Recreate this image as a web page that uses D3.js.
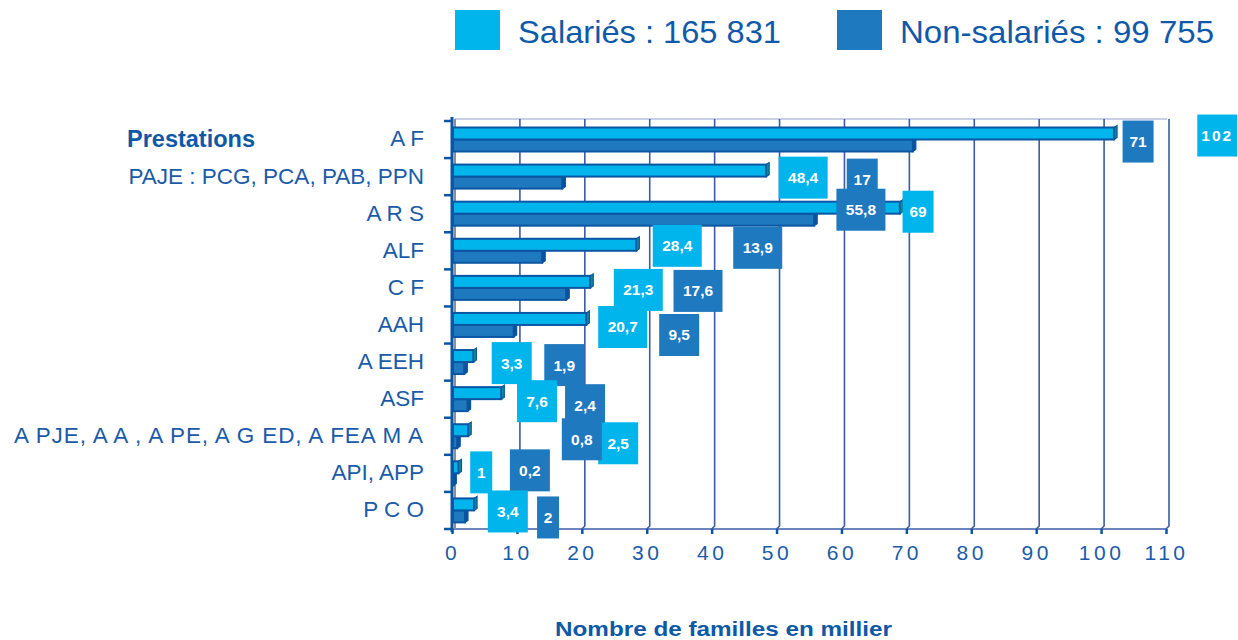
<!DOCTYPE html>
<html>
<head>
<meta charset="utf-8">
<script src="https://cdn.jsdelivr.net/npm/d3@7"></script>
<style>
  body { margin: 0; background: #fff; }
  svg { display: block; font-family: "Liberation Sans", Arial, sans-serif; }
</style>
</head>
<body>
<svg id="chart" width="1238" height="640"></svg>
<script>
const categories = [
  "A F",
  "PAJE : PCG, PCA, PAB, PPN",
  "A R S",
  "ALF",
  "C F",
  "AAH",
  "A EEH",
  "ASF",
  "A PJE, A A , A PE, A G ED, A FEA M A",
  "API, APP",
  "P C O",
];
const salaries = [102, 48.4, 69, 28.4, 21.3, 20.7, 3.3, 7.6, 2.5, 1, 3.4];
const nonSalaries = [71, 17, 55.8, 13.9, 17.6, 9.5, 1.9, 2.4, 0.8, 0.2, 2];
const xTicks = [0, 10, 20, 30, 40, 50, 60, 70, 80, 90, 100, 110];
const legendLabels = ["Salariés : 165 831", "Non-salariés : 99 755"];

// where the value boxes sit: [x in axis units, dy from band centre] per row
const lightSpots = [[117.9, -4], [54.1, 1], [71.8, -2], [34.7, -5], [28.7, 2], [26.3, 2],
  [9.2, 1], [13.1, 2], [25.6, 7], [4.5, -1], [8.6, 1]];
const darkSpots = [[105.7, 2], [63.2, 3], [63.0, -4], [47.1, -3], [37.9, 3], [35.0, 10],
  [17.3, 3], [20.5, 6], [20.0, 3], [12.0, -3], [14.8, 7]];

const LIGHT = "#00b4ec";
const DARK = "#1f79bf";
const EDGE = "#0b56a3";
const GRID = "#3d5ba6";
const TEXT = "#1a5ba9";

const svg = d3.select("#chart");

const x = d3.scaleLinear().domain([0, 110]).range([452, 1166]);
const y = d3.scaleBand().domain(categories).range([121, 529]).padding(0);
const bw = y.bandwidth();
const barH = 12;
const depth = 3;

const fmt = v => d3.format(",")(v).replace(".", ",");

// back wall grid
const grid = svg.append("g");
grid.append("line")
  .attr("x1", x(0) + depth).attr("x2", x(110) + 1)
  .attr("y1", 119).attr("y2", 119)
  .attr("stroke", "#b7bfdc").attr("stroke-width", 1.5);
grid.selectAll("path.grid")
  .data(xTicks.slice(1))
  .join("path")
  .attr("class", "grid")
  .attr("d", d => `M${x(d) + depth},119 V${y.range()[1] - depth} L${x(d)},${y.range()[1]}`)
  .attr("fill", "none")
  .attr("stroke", GRID)
  .attr("stroke-width", 1.6);
grid.append("line")
  .attr("x1", x(0)).attr("x2", x(110))
  .attr("y1", y.range()[1]).attr("y2", y.range()[1])
  .attr("stroke", GRID).attr("stroke-width", 1.5);

// left wall edge
svg.append("line")
  .attr("x1", x(0) + 3).attr("x2", x(0) + 3)
  .attr("y1", 119).attr("y2", y.range()[1])
  .attr("stroke", "#8a8f99").attr("stroke-width", 2);

// x axis
const xAxis = svg.append("g")
  .attr("transform", `translate(0,${y.range()[1]})`)
  .call(d3.axisBottom(x).tickValues(xTicks).tickSize(5).tickFormat(d3.format("d")));
xAxis.select(".domain").remove();
xAxis.selectAll(".tick line").attr("stroke", EDGE).attr("stroke-width", 2.5);
xAxis.selectAll(".tick text")
  .attr("y", 16)
  .attr("fill", TEXT)
  .attr("font-size", 21)
  .attr("letter-spacing", 3.5)
  .attr("font-family", "Liberation Sans, Arial, sans-serif");

// bars
const rows = categories.map((c, i) => ({ c, s: salaries[i], n: nonSalaries[i], i }));

function bar(g, value, y0, fill, cap) {
  const x0 = x(0) + 1;
  const x1 = x(value);
  g.append("rect")
    .attr("x", x0).attr("y", y0)
    .attr("width", Math.max(x1 - x0, 1)).attr("height", barH)
    .attr("fill", fill)
    .attr("stroke", EDGE).attr("stroke-width", 2);
  g.append("path")
    .attr("d", `M${x1},${y0} L${x1 + depth},${y0 - 2} V${y0 + barH - 2} L${x1},${y0 + barH} Z`)
    .attr("fill", cap)
    .attr("stroke", EDGE).attr("stroke-width", 1.2);
}

const barG = svg.append("g");
rows.forEach(r => {
  const g = barG.append("g");
  const top = y(r.c);
  bar(g, r.n, top + 18.5, DARK, "#0d4f9c");
  bar(g, r.s, top + 6.5, LIGHT, "#0f8a8c");
});

// y axis
svg.append("line")
  .attr("x1", x(0)).attr("x2", x(0))
  .attr("y1", 117).attr("y2", y.range()[1] + 3)
  .attr("stroke", EDGE).attr("stroke-width", 3);
svg.append("g")
  .selectAll("line")
  .data(categories.map(c => y(c)).concat([y.range()[1]]))
  .join("line")
  .attr("x1", x(0) - 8).attr("x2", x(0))
  .attr("y1", d => d).attr("y2", d => d)
  .attr("stroke", EDGE).attr("stroke-width", 2.5);

// category labels
svg.append("g")
  .selectAll("text")
  .data(categories)
  .join("text")
  .attr("x", 424)
  .attr("y", d => y(d) + bw / 2 - 1)
  .attr("dy", "0.35em")
  .attr("text-anchor", "end")
  .attr("font-size", 22.5)
  .attr("letter-spacing", d => d.length > 30 ? 0.9 : 0)
  .attr("fill", TEXT)
  .text(d => d);

svg.append("text")
  .attr("x", 127).attr("y", y(categories[0]) + bw / 2 - 1)
  .attr("dy", "0.35em")
  .attr("font-size", 23.5).attr("font-weight", "bold")
  .attr("fill", "#0f58a5")
  .text("Prestations");

// value boxes
function valueBox(g, value, spot, fill, row) {
  const label = fmt(value);
  const w = 13 + 9 * label.length;
  const h = 42;
  const cx = x(spot[0]);
  const cy = y(categories[row]) + bw / 2 + spot[1];
  g.append("rect")
    .attr("x", cx - w / 2).attr("y", cy - h / 2)
    .attr("width", w).attr("height", h)
    .attr("fill", fill);
  g.append("text")
    .attr("x", cx).attr("y", cy)
    .attr("dy", "0.35em")
    .attr("text-anchor", "middle")
    .attr("font-size", 15.5).attr("font-weight", "bold")
    .attr("letter-spacing", value >= 100 ? 2 : 0)
    .attr("fill", "#fff")
    .text(label);
}

const boxG = svg.append("g");
rows.forEach(r => {
  valueBox(boxG, r.s, lightSpots[r.i], LIGHT, r.i);
  valueBox(boxG, r.n, darkSpots[r.i], DARK, r.i);
});

// legend
const legend = svg.append("g");
[[455, LIGHT, 263], [837, DARK, 314]].forEach(([lx, col, len], i) => {
  legend.append("rect")
    .attr("x", lx).attr("y", 10).attr("width", 45).attr("height", 40)
    .attr("fill", col);
  legend.append("text")
    .attr("x", lx + 63).attr("y", 43)
    .attr("font-size", 32)
    .attr("textLength", len).attr("lengthAdjust", "spacingAndGlyphs")
    .attr("fill", "#0f5aa8")
    .text(legendLabels[i]);
});

// axis title
svg.append("text")
  .attr("x", 555).attr("y", 636)
  .attr("font-size", 20).attr("font-weight", "bold")
  .attr("textLength", 337).attr("lengthAdjust", "spacingAndGlyphs")
  .attr("fill", "#0d59a6")
  .text("Nombre de familles en millier");
</script>
</body>
</html>
